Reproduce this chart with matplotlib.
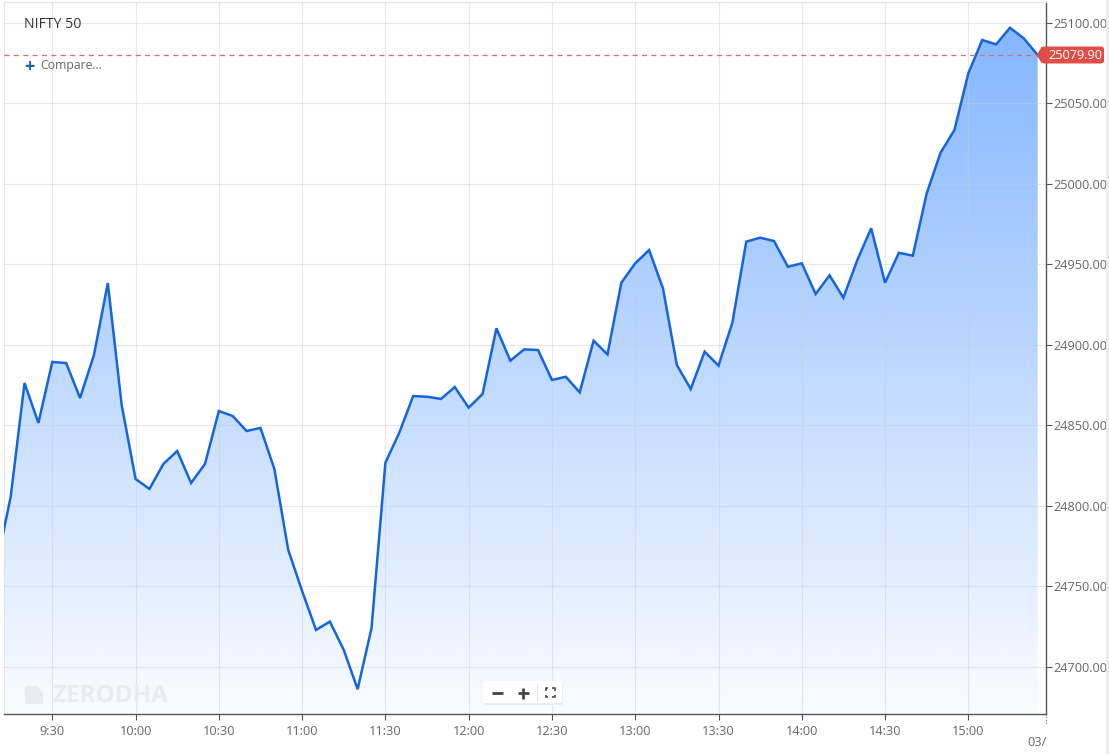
import matplotlib
matplotlib.use('Agg')
import matplotlib.pyplot as plt
import numpy as np
from matplotlib.patches import Polygon, FancyBboxPatch, Rectangle
from matplotlib.lines import Line2D

# ---------------- data ----------------
times = ["09:10", "09:15", "09:20", "09:25", "09:30", "09:35", "09:40", "09:45", "09:50", "09:55",
         "10:00", "10:05", "10:10", "10:15", "10:20", "10:25", "10:30", "10:35", "10:40", "10:45",
         "10:50", "10:55", "11:00", "11:05", "11:10", "11:15", "11:20", "11:25", "11:30", "11:35",
         "11:40", "11:45", "11:50", "11:55", "12:00", "12:05", "12:10", "12:15", "12:20", "12:25",
         "12:30", "12:35", "12:40", "12:45", "12:50", "12:55", "13:00", "13:05", "13:10", "13:15",
         "13:20", "13:25", "13:30", "13:35", "13:40", "13:45", "13:50", "13:55", "14:00", "14:05",
         "14:10", "14:15", "14:20", "14:25", "14:30", "14:35", "14:40", "14:45", "14:50", "14:55",
         "15:00", "15:05", "15:10", "15:15", "15:20", "15:25"]
values = [24764.0, 24805.4, 24876.2, 24851.4, 24889.3, 24888.6, 24866.9, 24893.6, 24938.3, 24862.5,
          24816.6, 24810.4, 24825.9, 24834.0, 24814.1, 24825.9, 24858.8, 24855.7, 24846.4, 24848.3,
          24822.8, 24772.5, 24747.0, 24722.8, 24728.0, 24710.4, 24686.0, 24723.9, 24826.7, 24845.3,
          24868.1, 24867.7, 24866.3, 24873.7, 24860.9, 24869.4, 24910.2, 24890.1, 24897.1, 24896.7,
          24878.1, 24880.1, 24870.4, 24902.5, 24894.0, 24938.5, 24950.6, 24958.8, 24935.0, 24887.4,
          24872.5, 24895.7, 24887.0, 24913.7, 24964.0, 24966.5, 24964.4, 24948.4, 24950.6, 24931.5,
          24943.1, 24929.2, 24952.6, 24972.3, 24938.5, 24957.1, 24955.3, 24994.0, 25019.3, 25033.4,
          25068.6, 25089.3, 25086.6, 25096.9, 25090.3, 25079.9]
last_price = 25079.90
title = "NIFTY 50"
x_tick_labels = ["9:30", "10:00", "10:30", "11:00", "11:30", "12:00", "12:30",
                 "13:00", "13:30", "14:00", "14:30", "15:00"]
y_ticks = [24700, 24750, 24800, 24850, 24900, 24950, 25000, 25050, 25100]

# ---------------- helpers ----------------
W, H = 1109, 754
def fx(px): return px / W
def fy(py): return 1 - py / H

def to_min(s):
    h, m = s.split(":")
    return (int(h) - 9) * 60 + int(m)

x = np.array([to_min(t) for t in times], dtype=float)
v = np.array(values)
xt = [to_min(t) for t in x_tick_labels]

plt.rcParams['font.family'] = ['Open Sans', 'DejaVu Sans']

fig = plt.figure(figsize=(W / 100, H / 100), dpi=100)
fig.patch.set_facecolor('white')

ax_l, ax_r, ax_t, ax_b = 4, 1045.5, 2, 714
ax = fig.add_axes([fx(ax_l), fy(ax_b), fx(ax_r) - fx(ax_l), fy(ax_t) - fy(ax_b)])
ax.set_facecolor('white')

xlo, xhi = 12.6, 387.8
ylo, yhi = 24670.6, 25112.9
ax.set_xlim(xlo, xhi)
ax.set_ylim(ylo, yhi)

# gradient fill under the line
verts = list(zip(x, v)) + [(x[-1], ylo), (x[0], ylo)]
poly = Polygon(verts, closed=True, facecolor='none', edgecolor='none')
ax.add_patch(poly)
g = np.linspace(0, 1, 256).reshape(-1, 1, 1)
top = np.array([128, 180, 255]) / 255.0
bot = np.array([250, 252, 255]) / 255.0
img = top * (1 - g) + bot * g
im = ax.imshow(img, extent=[xlo, xhi, ylo, yhi], aspect='auto', origin='upper',
               zorder=1, interpolation='bilinear')
im.set_clip_path(poly)

# grid
ax.set_axisbelow(False)
ax.set_xticks(xt)
ax.set_yticks(y_ticks)
ax.grid(True, color='#c8ccd2', alpha=0.45, linewidth=0.8, zorder=2)

# line
ax.plot(x, v, color='#1565dc', linewidth=1.8, zorder=4, solid_joinstyle='miter')

# last price dashed line
ax.axhline(last_price, color='#dc6a66', linewidth=0.9, dashes=(4, 3.5), zorder=5)

# axes styling
ax.yaxis.tick_right()
ax.set_yticklabels([f"{t:.2f}" for t in y_ticks])
ax.set_xticklabels(x_tick_labels)
ax.tick_params(axis='y', direction='out', length=4, width=0.8, color='#555555',
               labelsize=9.2, labelcolor='#666666', pad=2)
ax.tick_params(axis='x', direction='out', length=4, width=0.8, color='#555555',
               labelsize=9.2, labelcolor='#666666', pad=4)
for s in ['left', 'top']:
    ax.spines[s].set_color('#e4e4e4')
    ax.spines[s].set_linewidth(0.8)
for s in ['right', 'bottom']:
    ax.spines[s].set_color('#555555')
    ax.spines[s].set_linewidth(1.0)

# dotted tick at the right end and the cut-off date label
fig.add_artist(Line2D([fx(1045.5), fx(1045.5)], [fy(714), fy(724)], color='#777777',
                      linewidth=0.8, linestyle=(0, (1, 1.5))))
fig.text(fx(1047), fy(743), "03/", ha='right', va='center', fontsize=9.2, color='#666666')

# price tag
tag_l, tag_r, tag_t, tag_b = 1041, 1104, 46.5, 63.5
box = FancyBboxPatch((fx(tag_l), fy(tag_b)), fx(tag_r) - fx(tag_l), fy(tag_t) - fy(tag_b),
                     boxstyle="round,pad=0,rounding_size=0.003", transform=fig.transFigure,
                     facecolor='#de4d48', edgecolor='none', zorder=10)
fig.add_artist(box)
arrow = Polygon([(fx(1036.5), fy(55)), (fx(tag_l + 1), fy(tag_t)), (fx(tag_l + 1), fy(tag_b))],
                closed=True, transform=fig.transFigure, facecolor='#de4d48', edgecolor='none', zorder=10)
fig.add_artist(arrow)
fig.text(fx(1075.5), fy(55.5), f"{last_price:.2f}", ha='center', va='center',
         fontsize=9.2, color='white', zorder=11)

# title and compare
fig.text(fx(24), fy(25), title, ha='left', va='center', fontsize=10.2, color='#333333')
fig.text(fx(29), fy(66.5), "+", ha='center', va='center', fontsize=13, color='#1a5fb4',
         fontweight='bold')
fig.text(fx(40), fy(66), "Compare...", ha='left', va='center', fontsize=8.8, color='#666666')

# watermark
logo = Polygon([(fx(25), fy(686)), (fx(37), fy(686)), (fx(43), fy(693)), (fx(43), fy(704)),
                (fx(25), fy(704))], closed=True, transform=fig.transFigure,
               facecolor='#e8ebef', edgecolor='none', zorder=6)
fig.add_artist(logo)
fig.text(fx(52), fy(696), "ZERODHA", ha='left', va='center', fontsize=17.5, color='#e8ebef',
         fontweight='bold', zorder=6)

# zoom controls
shadow = FancyBboxPatch((fx(484), fy(705)), fx(563) - fx(484), fy(682) - fy(705),
                        boxstyle="round,pad=0,rounding_size=0.002", transform=fig.transFigure,
                        facecolor='#e9ecf0', edgecolor='none', zorder=7)
fig.add_artist(shadow)
ctrl = FancyBboxPatch((fx(483), fy(703)), fx(562) - fx(483), fy(681) - fy(703),
                      boxstyle="round,pad=0,rounding_size=0.002", transform=fig.transFigure,
                      facecolor='white', edgecolor='none', zorder=8)
fig.add_artist(ctrl)
fig.add_artist(Line2D([fx(491.5), fx(502.5)], [fy(693), fy(693)], color='#444444',
                      linewidth=2.0, zorder=9, solid_capstyle='butt'))
fig.add_artist(Line2D([fx(517.5), fx(528.5)], [fy(693), fy(693)], color='#444444',
                      linewidth=2.0, zorder=9, solid_capstyle='butt'))
fig.add_artist(Line2D([fx(523), fx(523)], [fy(687.5), fy(698.5)], color='#444444',
                      linewidth=2.0, zorder=9, solid_capstyle='butt'))
fig.add_artist(Line2D([fx(537), fx(537)], [fy(684), fy(701)], color='#e2e2e2', linewidth=0.8, zorder=9))
# fullscreen icon (four corners)
cx, cy, s, c = 550, 692.5, 4.5, 2.5
for sx in (-1, 1):
    for sy in (-1, 1):
        xs = [cx + sx * s, cx + sx * s, cx + sx * (s - c)]
        ys = [cy + sy * (s - c), cy + sy * s, cy + sy * s]
        fig.add_artist(Line2D([fx(a) for a in xs], [fy(b) for b in ys], color='#555555',
                              linewidth=1.3, zorder=9, solid_capstyle='butt'))

# right-edge strip
fig.add_artist(Rectangle((fx(1106), 0), fx(1109) - fx(1106), 1, transform=fig.transFigure,
                         facecolor='#ececec', edgecolor='none'))

fig.savefig("out.png", dpi=100, facecolor='white')
